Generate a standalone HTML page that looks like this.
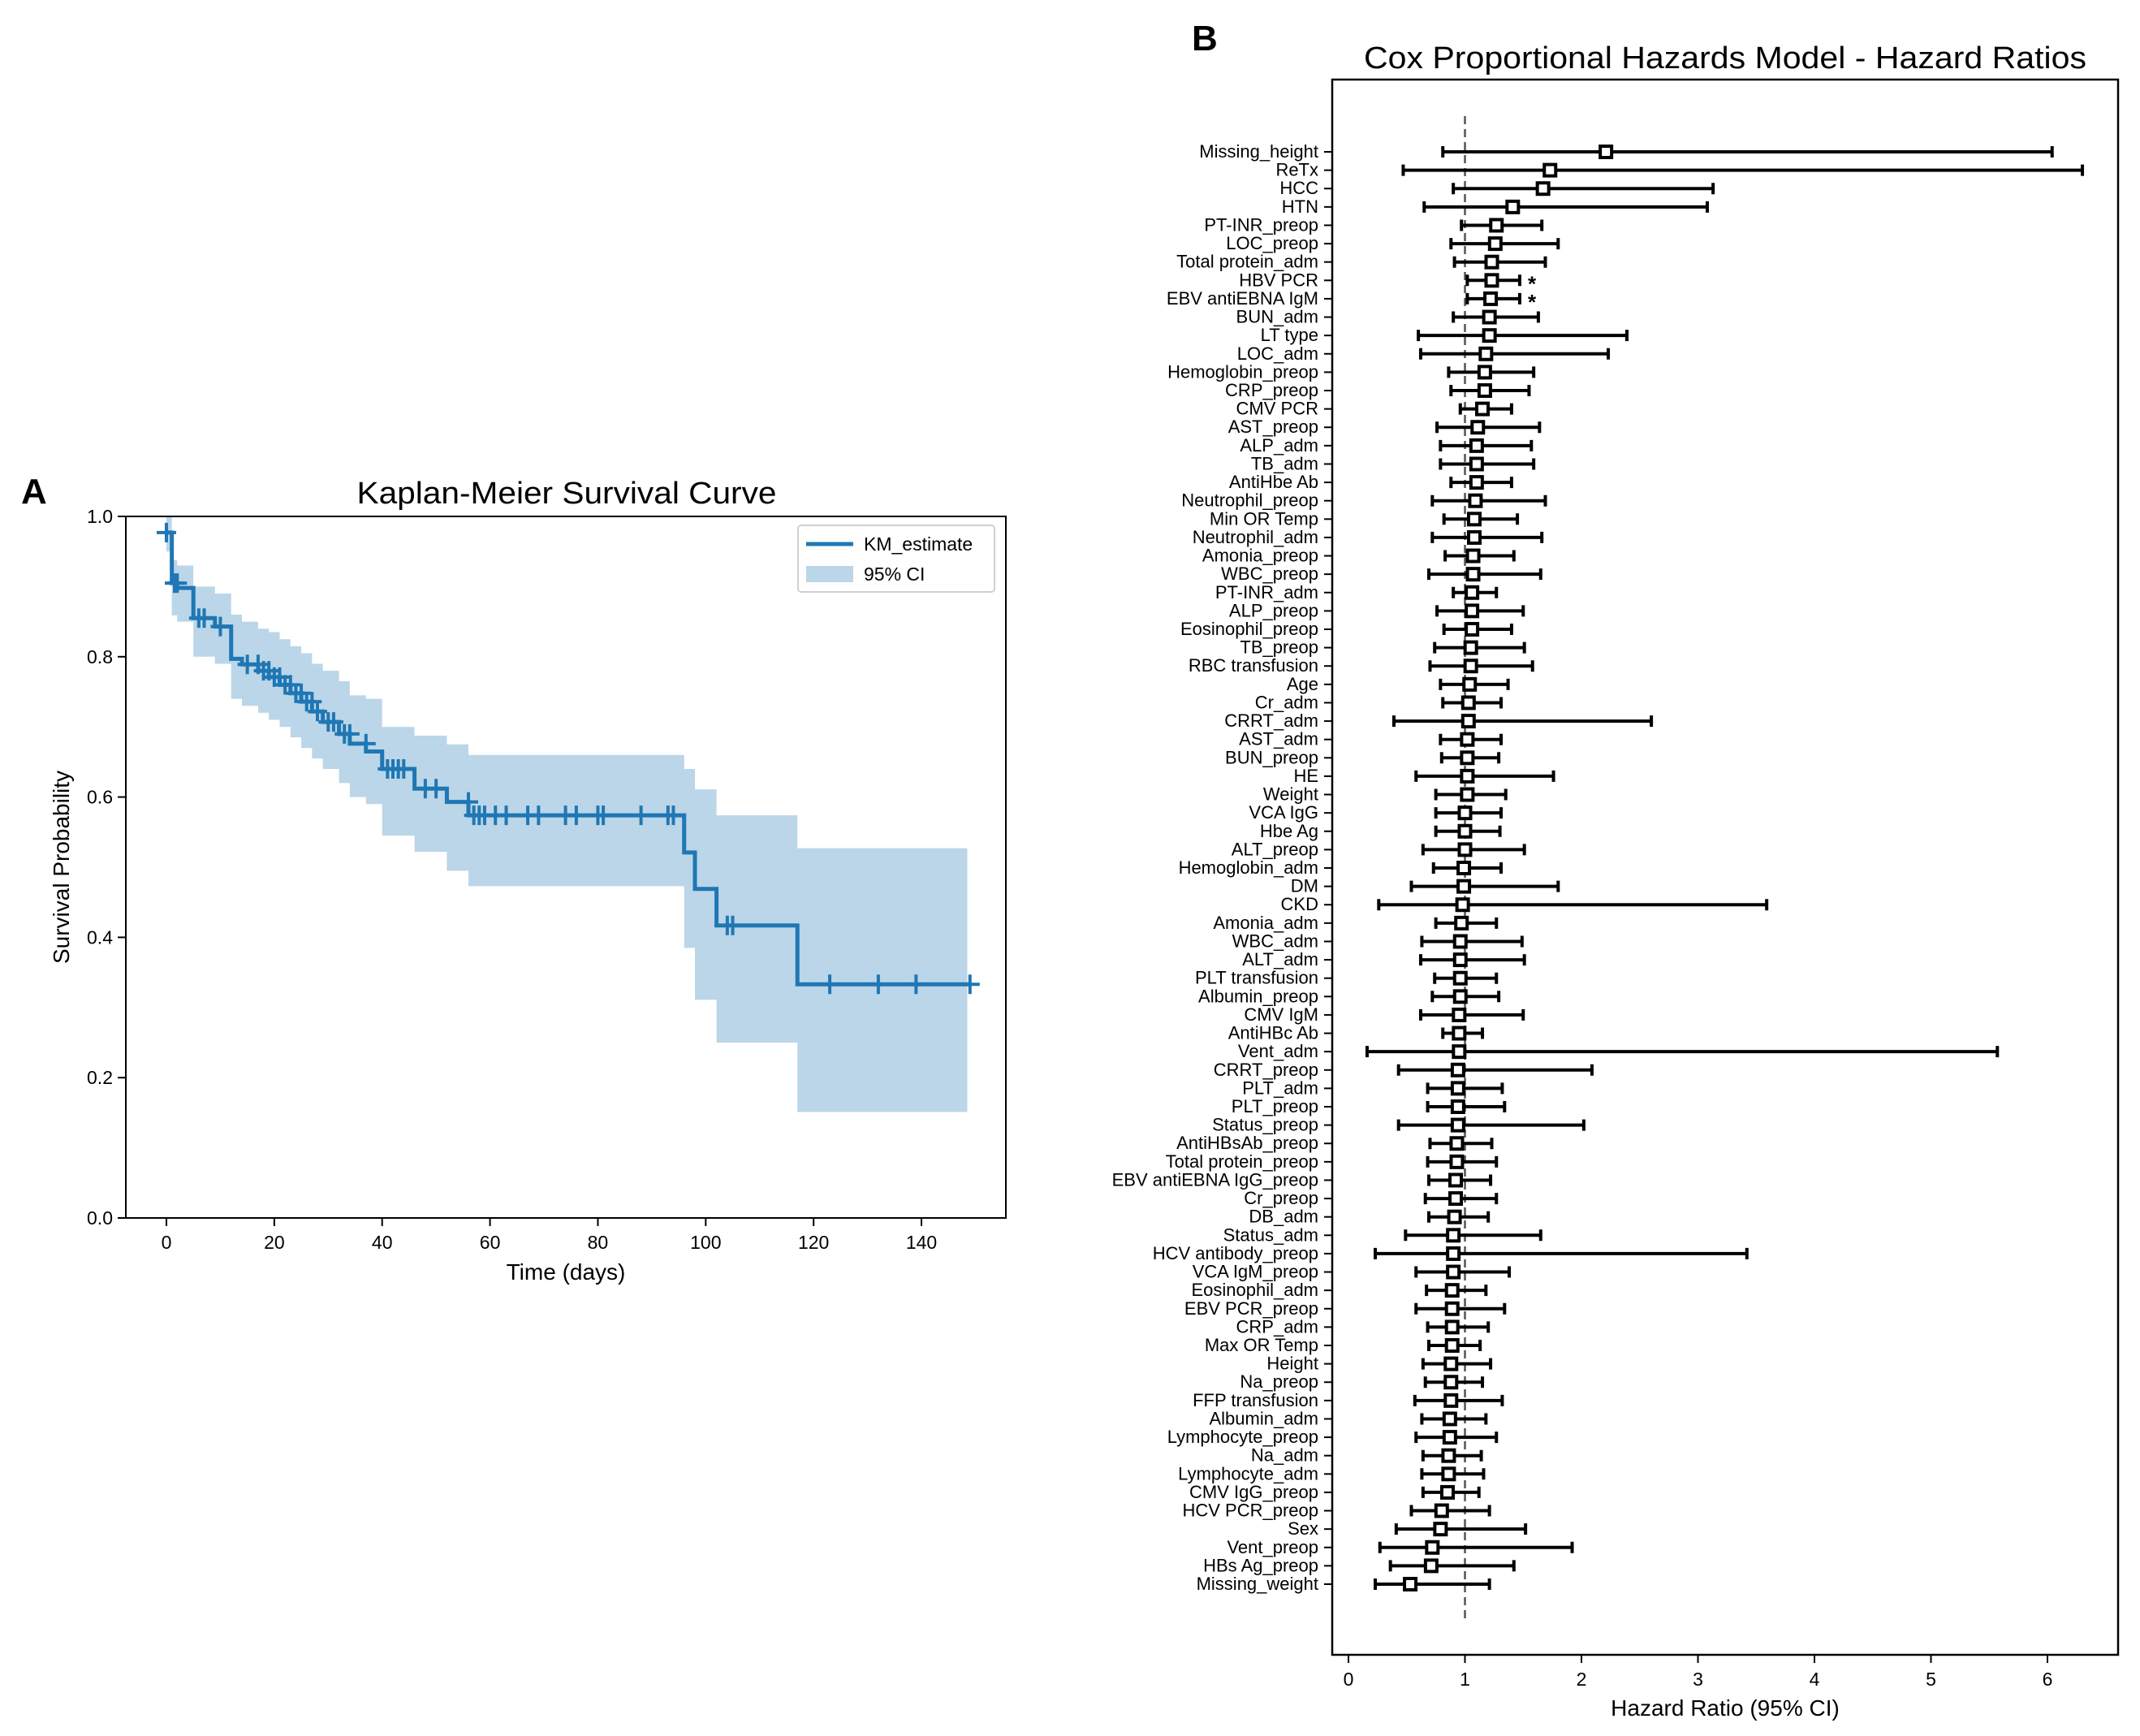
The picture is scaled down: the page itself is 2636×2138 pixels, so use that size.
<!DOCTYPE html>
<html><head><meta charset="utf-8">
<style>
html,body{margin:0;padding:0;background:#fff;}
svg{display:block;font-family:"Liberation Sans","NanumGothic",sans-serif;}
</style></head>
<body>
<svg id="fig" width="2636" height="2138" viewBox="0 0 2636 2138" xmlns="http://www.w3.org/2000/svg">
<rect width="2636" height="2138" fill="#fff"/>
<text x="26" y="620" font-size="44" font-weight="bold">A</text>
<text x="698" y="620" font-size="38" text-anchor="middle" textLength="517" lengthAdjust="spacingAndGlyphs">Kaplan-Meier Survival Curve</text>
<text x="1468" y="62" font-size="44" font-weight="bold">B</text>
<text x="2125" y="84" font-size="38" text-anchor="middle" textLength="890" lengthAdjust="spacingAndGlyphs">Cox Proportional Hazards Model - Hazard Ratios</text>
<g id="km"></g>
<g id="cox"></g>
</svg>
<script>
// ---- KM data ----
const kmTimes = [0, 1, 2, 5, 9, 12, 14, 17, 19, 21, 23, 25, 27, 29, 32, 34, 37, 40, 46, 52, 56, 96, 98, 102, 117];
const kmSurv  = [0.977,0.905,0.898,0.855,0.843,0.797,0.789,0.780,0.771,0.760,0.748,0.736,0.722,0.707,0.690,0.676,0.665,0.640,0.612,0.593,0.574,0.521,0.469,0.417,0.333];
const kmHi    = [1.0,0.9375,0.93,0.90,0.89,0.86,0.85,0.84,0.835,0.825,0.815,0.805,0.79,0.78,0.765,0.745,0.74,0.70,0.6875,0.675,0.66,0.64,0.611,0.574,0.527];
const kmLo    = [0.95,0.859,0.85,0.80,0.79,0.74,0.73,0.72,0.71,0.70,0.685,0.67,0.655,0.64,0.62,0.60,0.59,0.545,0.522,0.495,0.473,0.385,0.311,0.25,0.151];
const kmEnd = 148.5;
const kmCensor = [0,1.5,2,6,7,10,15,17,18,19,20,21,22,23,24,25,26,27,28,30,31,33,34,37,41,42,43,44,48,50,56,57,58,59,61,63,67,69,74,76,80,81,88,93,94,104,105,123,132,139,149];
const kmXTicks = [0,20,40,60,80,100,120,140];
const kmYTicks = [0.0,0.2,0.4,0.6,0.8,1.0];

// ---- Cox data ----
const coxVars = ["Missing_height","ReTx","HCC","HTN","PT-INR_preop","LOC_preop","Total protein_adm","HBV PCR","EBV antiEBNA IgM","BUN_adm","LT type","LOC_adm","Hemoglobin_preop","CRP_preop","CMV PCR","AST_preop","ALP_adm","TB_adm","AntiHbe Ab","Neutrophil_preop","Min OR Temp","Neutrophil_adm","Amonia_preop","WBC_preop","PT-INR_adm","ALP_preop","Eosinophil_preop","TB_preop","RBC transfusion","Age","Cr_adm","CRRT_adm","AST_adm","BUN_preop","HE","Weight","VCA IgG","Hbe Ag","ALT_preop","Hemoglobin_adm","DM","CKD","Amonia_adm","WBC_adm","ALT_adm","PLT transfusion","Albumin_preop","CMV IgM","AntiHBc Ab","Vent_adm","CRRT_preop","PLT_adm","PLT_preop","Status_preop","AntiHBsAb_preop","Total protein_preop","EBV antiEBNA IgG_preop","Cr_preop","DB_adm","Status_adm","HCV antibody_preop","VCA IgM_preop","Eosinophil_adm","EBV PCR_preop","CRP_adm","Max OR Temp","Height","Na_preop","FFP transfusion","Albumin_adm","Lymphocyte_preop","Na_adm","Lymphocyte_adm","CMV IgG_preop","HCV PCR_preop","Sex","Vent_preop","HBs Ag_preop","Missing_weight"];
const coxHR = [2.21,1.73,1.67,1.41,1.27,1.26,1.23,1.23,1.22,1.21,1.21,1.18,1.17,1.17,1.15,1.11,1.10,1.10,1.10,1.09,1.08,1.08,1.07,1.07,1.06,1.06,1.06,1.05,1.05,1.04,1.03,1.03,1.02,1.02,1.02,1.02,1.00,1.00,1.00,0.99,0.99,0.98,0.97,0.96,0.96,0.96,0.96,0.95,0.95,0.95,0.94,0.94,0.94,0.94,0.93,0.93,0.92,0.92,0.91,0.90,0.90,0.90,0.89,0.89,0.89,0.89,0.88,0.88,0.88,0.87,0.87,0.86,0.86,0.85,0.80,0.79,0.72,0.71,0.53];
const coxLo = [0.81,0.47,0.90,0.65,0.97,0.88,0.91,1.02,1.02,0.90,0.60,0.62,0.86,0.88,0.96,0.76,0.79,0.79,0.88,0.72,0.82,0.72,0.83,0.69,0.90,0.76,0.82,0.74,0.70,0.79,0.81,0.39,0.79,0.80,0.58,0.75,0.75,0.75,0.64,0.73,0.54,0.26,0.75,0.63,0.62,0.74,0.72,0.62,0.81,0.16,0.43,0.68,0.68,0.43,0.70,0.68,0.69,0.66,0.69,0.49,0.23,0.58,0.67,0.58,0.68,0.69,0.64,0.66,0.57,0.63,0.58,0.64,0.63,0.64,0.54,0.41,0.27,0.36,0.23];
const coxHi = [6.04,6.30,3.13,3.08,1.66,1.80,1.69,1.47,1.47,1.63,2.39,2.23,1.59,1.55,1.40,1.64,1.57,1.59,1.40,1.69,1.45,1.66,1.42,1.65,1.27,1.50,1.40,1.51,1.58,1.37,1.31,2.60,1.31,1.29,1.76,1.35,1.31,1.30,1.51,1.31,1.80,3.59,1.27,1.49,1.51,1.27,1.29,1.50,1.15,5.57,2.09,1.32,1.34,2.02,1.23,1.27,1.22,1.27,1.20,1.65,3.42,1.38,1.18,1.34,1.20,1.13,1.22,1.15,1.32,1.18,1.27,1.14,1.16,1.12,1.21,1.52,1.92,1.42,1.21];
const coxSig = ["HBV PCR","EBV antiEBNA IgM"];
const coxXTicks = [0,1,2,3,4,5,6];

const NS = "http://www.w3.org/2000/svg";
function mk(parent, tag, attrs, text){
  const e = document.createElementNS(NS, tag);
  for (const k in attrs) e.setAttribute(k, attrs[k]);
  if (text !== undefined) e.textContent = text;
  parent.appendChild(e);
  return e;
}

// ===== KM chart =====
(function(){
  const g = document.getElementById('km');
  const L=155, R=1239, T=636, B=1500;
  const X = t => 205 + t*6.643;
  const Y = p => B - p*(B-T);
  let up = "", dn = [];
  for (let i=0;i<kmTimes.length;i++){
    const t0 = kmTimes[i], t1 = i<kmTimes.length-1 ? kmTimes[i+1] : kmEnd;
    up += (i===0?"M":"L") + X(t0) + "," + Y(kmHi[i]) + " L" + X(t1) + "," + Y(kmHi[i]) + " ";
    dn.unshift("L" + X(t1) + "," + Y(kmLo[i]) + " L" + X(t0) + "," + Y(kmLo[i]));
  }
  const band = mk(g,'path',{d: up + dn.join(" ") + " Z", fill:"#bbd6e8"});
  
  
  let d = "";
  for (let i=0;i<kmTimes.length;i++){
    const t0 = kmTimes[i], t1 = i<kmTimes.length-1 ? kmTimes[i+1] : 149;
    d += (i===0?"M"+X(t0)+","+Y(kmSurv[i]):"L"+X(t0)+","+Y(kmSurv[i])) + " L" + X(t1) + "," + Y(kmSurv[i]) + " ";
  }
  const line = mk(g,'path',{d:d, fill:"none", stroke:"#1f77b4", "stroke-width":5});
  
  
  function survAt(t){ let s=kmSurv[0]; for(let i=0;i<kmTimes.length;i++){ if (kmTimes[i] < t || (i===0)) s=kmSurv[i]; } return s; }
  kmCensor.forEach(t=>{
    const cx=X(t), cy=Y(survAt(t));
    const m = mk(g,'path',{d:`M${cx-12},${cy} L${cx+12},${cy} M${cx},${cy-12} L${cx},${cy+12}`, stroke:"#1f77b4","stroke-width":4});
    
    
  });
  const fr = mk(g,'rect',{x:L,y:T,width:R-L,height:B-T,fill:"none",stroke:"#000","stroke-width":2});
  
  
  kmXTicks.forEach(v=>{
    const x=X(v);
    mk(g,'line',{x1:x,x2:x,y1:B,y2:B+10,stroke:"#000","stroke-width":2});
    const t = mk(g,'text',{x:x,y:B+38,"font-size":23,"text-anchor":"middle"}, String(v));
    
    
  });
  kmYTicks.forEach(v=>{
    const y=Y(v);
    mk(g,'line',{x1:L-10,x2:L,y1:y,y2:y,stroke:"#000","stroke-width":2});
    const t = mk(g,'text',{x:L-16,y:y+8,"font-size":23,"text-anchor":"end"}, v.toFixed(1));
    
    
  });
  const xl = mk(g,'text',{x:(L+R)/2,y:1576,"font-size":28,"text-anchor":"middle"},"Time (days)");
  
  
  const yl = mk(g,'text',{x:0,y:0,"font-size":28,"text-anchor":"middle",transform:`translate(85,${(T+B)/2}) rotate(-90)`},"Survival Probability");
  
  
  const lg = mk(g,'g',{});
  
  
  mk(lg,'rect',{x:983,y:647,width:242,height:82,rx:4,fill:"#fff",stroke:"#d0d0d0","stroke-width":2});
  mk(lg,'line',{x1:993,x2:1051,y1:670,y2:670,stroke:"#1f77b4","stroke-width":5});
  mk(lg,'text',{x:1064,y:678,"font-size":23},"KM_estimate");
  mk(lg,'rect',{x:993,y:697,width:58,height:20,fill:"#bbd6e8"});
  mk(lg,'text',{x:1064,y:715,"font-size":23},"95% CI");
})();

// ===== Cox chart =====
(function(){
  const g = document.getElementById('cox');
  const L=1641, R=2609, T=98, B=2038;
  const X = v => 1661 + v*143.5;
  const y0=187, dy=(1951-187)/(coxVars.length-1);
  const Y = i => y0 + i*dy;
  const ref = mk(g,'line',{x1:X(1),x2:X(1),y1:143,y2:1996,stroke:"#555","stroke-width":2.5,"stroke-dasharray":"10,6"});
  
  
  coxVars.forEach((name,i)=>{
    const y=Y(i);
    const row = mk(g,'g',{});
    
    
    const xl=X(coxLo[i]), xh=X(coxHi[i]), xm=X(coxHR[i]);
    mk(row,'path',{d:`M${xl},${y} L${xh},${y} M${xl},${y-7} L${xl},${y+7} M${xh},${y-7} L${xh},${y+7}`,stroke:"#000","stroke-width":4,fill:"none"});
    mk(row,'rect',{x:xm-7,y:y-7,width:14,height:14,fill:"#fff",stroke:"#000","stroke-width":4});
    mk(row,'line',{x1:L-10,x2:L,y1:y,y2:y,stroke:"#000","stroke-width":2});
    mk(row,'text',{x:L-17,y:y+7,"font-size":22,"text-anchor":"end"},name);
    if (coxSig.indexOf(name)>=0){
      mk(row,'text',{x:xh+10,y:y+13,"font-size":26,"font-weight":"bold"},"*");
    }
  });
  const fr = mk(g,'rect',{x:L,y:T,width:R-L,height:B-T,fill:"none",stroke:"#000","stroke-width":2.5});
  
  
  coxXTicks.forEach(v=>{
    const x=X(v);
    mk(g,'line',{x1:x,x2:x,y1:B,y2:B+10,stroke:"#000","stroke-width":2});
    const t = mk(g,'text',{x:x,y:B+38,"font-size":23,"text-anchor":"middle"},String(v));
    
    
  });
  const xt = mk(g,'text',{x:2125,y:2113,"font-size":28,"text-anchor":"middle"},"Hazard Ratio (95% CI)");
  
  
})();
</script>
</body></html>
